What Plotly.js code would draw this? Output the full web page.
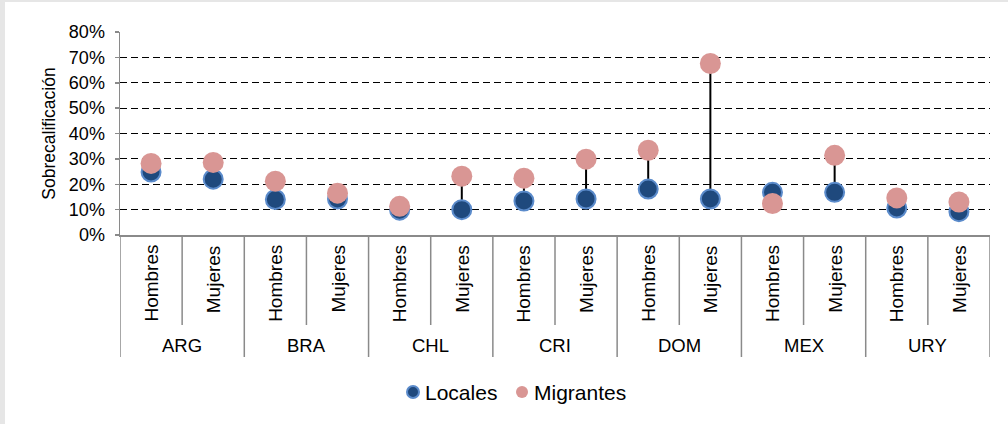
<!DOCTYPE html>
<html>
<head>
<meta charset="utf-8">
<script src="https://cdn.plot.ly/plotly-3.0.1.min.js"></script>
<style>
  html, body { margin: 0; padding: 0; background: #e6e6e6; }
  #chart { position: absolute; left: 5px; top: 2px; width: 1003px; height: 422px; background: #fff; }
</style>
</head>
<body>
<div id="chart"></div>
<script>
// ---- data ----
const countries = ['ARG', 'BRA', 'CHL', 'CRI', 'DOM', 'MEX', 'URY'];
const sexes = ['Hombres', 'Mujeres'];
const locales   = [24.8, 22.0, 14.0, 14.2, 9.8, 10.0, 13.4, 14.2, 18.1, 14.2, 16.8, 16.8, 10.6, 9.2];
const migrantes = [28.2, 28.6, 21.2, 16.5, 11.3, 23.2, 22.4, 29.9, 33.4, 67.6, 12.4, 31.4, 14.6, 13.0];
const seriesNames = ['Locales', 'Migrantes'];
const yTitle = 'Sobrecalificación';

// ---- style ----
const font = 'Liberation Sans, Arial, sans-serif';
const blue = '#1F497D', blueEdge = '#5B8BCB', pink = '#D99694';

// ---- build ----
const nSub = sexes.length;
const xs = locales.map((_, i) => i);
const lx = [], ly = [];
xs.forEach(i => { lx.push(i, i, null); ly.push(locales[i], migrantes[i], null); });

const traces = [
  { x: lx, y: ly, mode: 'lines', line: { color: '#000', width: 2 }, showlegend: false, hoverinfo: 'skip' },
  { x: xs, y: locales, name: seriesNames[0], mode: 'markers', type: 'scatter', showlegend: false,
    marker: { size: 19, color: blue, line: { color: blueEdge, width: 2 } } },
  { x: xs, y: migrantes, name: seriesNames[1], mode: 'markers', type: 'scatter', showlegend: false,
    marker: { size: 21, color: pink, line: { width: 0 } } }
];

const plotW = 870, plotH = 203, mL = 115;
const belowAxis = py => -py / plotH;          // pixels below the x axis -> paper y
const fromLeft = px => (px - mL) / plotW;     // div pixel -> paper x
const annotations = [];
const shapes = [];
countries.forEach((c, g) => {
  sexes.forEach((s, k) => {
    annotations.push({ x: g * nSub + k, xref: 'x', y: belowAxis(8), yref: 'paper',
      text: s, textangle: -90, showarrow: false, xanchor: 'center', yanchor: 'top',
      font: { family: font, size: 19, color: '#000' } });
  });
  annotations.push({ x: g * nSub + (nSub - 1) / 2, xref: 'x', y: belowAxis(110), yref: 'paper',
    text: c, showarrow: false, xanchor: 'center', yanchor: 'middle',
    font: { family: font, size: 18.5, color: '#000' } });
  for (let k = 1; k < nSub; k++) {
    shapes.push({ type: 'line', xref: 'x', yref: 'paper', x0: g * nSub + k - 0.5, x1: g * nSub + k - 0.5,
      y0: 0, y1: belowAxis(90), line: { color: '#8a8a8a', width: 1.5 } });
  }
});
for (let g = 0; g <= countries.length; g++) {
  shapes.push({ type: 'line', xref: 'x', yref: 'paper', x0: g * nSub - 0.5, x1: g * nSub - 0.5,
    y0: 0, y1: belowAxis(122), line: { color: '#8a8a8a', width: 1.5 } });
}

// legend (drawn manually so the marker sits close to its label)
const legendY = belowAxis(157);
const legendItems = [
  { name: seriesNames[0], cx: 408, tx: 418, fill: blue, edge: blueEdge, ew: 2 },
  { name: seriesNames[1], cx: 517, tx: 527, fill: pink, edge: pink, ew: 0 }
];
legendItems.forEach(it => {
  shapes.push({ type: 'circle', xref: 'paper', yref: 'paper', xsizemode: 'pixel', ysizemode: 'pixel',
    xanchor: fromLeft(it.cx), yanchor: legendY, x0: -6, x1: 6, y0: -6, y1: 6,
    fillcolor: it.fill, line: { color: it.edge, width: it.ew } });
  annotations.push({ x: fromLeft(it.tx), xref: 'paper', y: legendY, yref: 'paper', text: it.name,
    showarrow: false, xanchor: 'left', yanchor: 'middle', font: { family: font, size: 21, color: '#000' } });
});

const layout = {
  width: 1003, height: 422,
  margin: { l: mL, r: 18, t: 30, b: 189 },
  paper_bgcolor: '#fff', plot_bgcolor: '#fff',
  font: { family: font, size: 18, color: '#000' },
  showlegend: false,
  xaxis: { range: [-0.5, xs.length - 0.5], showgrid: false, zeroline: false, showticklabels: false,
    showline: true, linecolor: '#8a8a8a', linewidth: 1.5, ticks: '', fixedrange: true },
  yaxis: { range: [0, 80], dtick: 10, ticksuffix: '%', showgrid: true, gridcolor: '#000', gridwidth: 1,
    griddash: '7px,4px', zeroline: false, showline: true, linecolor: '#8a8a8a', linewidth: 1.5,
    ticks: 'outside', ticklen: 4, tickcolor: '#8a8a8a', tickwidth: 1.5, ticklabelstandoff: 6,
    tickfont: { family: font, size: 18, color: '#000' },
    title: { text: yTitle, font: { family: font, size: 17.5, color: '#000' }, standoff: 8 } },
  annotations: annotations,
  shapes: shapes
};

Plotly.newPlot('chart', traces, layout, { displayModeBar: false, staticPlot: true });
</script>
</body>
</html>
